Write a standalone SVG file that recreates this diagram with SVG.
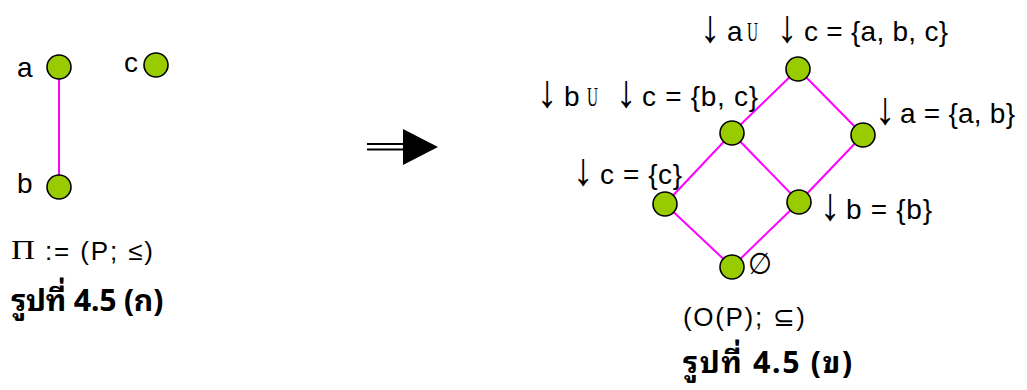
<svg xmlns="http://www.w3.org/2000/svg" width="1027" height="390" viewBox="0 0 1027 390">
  <style>
    .node { fill: #99cc00; stroke: #000; stroke-width: 1.6; }
    .edge { stroke: #ff00ff; stroke-width: 2; fill: none; }
    .lbl { font-family: "Liberation Sans", Arial, sans-serif; font-size: 28px; fill: #000; }
    .small { font-family: "Liberation Sans", Arial, sans-serif; font-size: 26px; fill: #000; }
    .arr { font-family: "Liberation Sans", Arial, sans-serif; font-size: 46px; fill: #000; }
    .cup { font-family: "Liberation Serif", "Times New Roman", serif; font-size: 28px; fill: #000; }
    .cap { font-family: "Noto Sans Thai Looped", Tahoma, "Noto Sans Thai", "Noto Sans", "DejaVu Sans", sans-serif; font-size: 30px; font-weight: bold; fill: #000; }
  </style>

  <!-- left poset: a above b, c unrelated -->
  <g id="connectors-left">
    <line class="edge" x1="59" y1="67" x2="59" y2="187"/>
  </g>
  <g id="node-a">
    <circle class="node" cx="59" cy="67" r="12"/>
    <text class="lbl" x="17" y="77">a</text>
  </g>
  <g id="node-c">
    <circle class="node" cx="156" cy="65" r="12"/>
    <text class="lbl" x="124" y="72">c</text>
  </g>
  <g id="node-b">
    <circle class="node" cx="59" cy="187" r="12"/>
    <text class="lbl" x="17" y="193">b</text>
  </g>
  <g id="poset-name">
    <text class="cup" x="11" y="259" font-size="26" textLength="24" lengthAdjust="spacingAndGlyphs">Π</text>
    <text class="small" x="45" y="260" textLength="108">:= (P; ≤)</text>
  </g>
  <text class="cap" x="11" y="311" textLength="152">รูปที่ 4.5 (ก)</text>

  <!-- transition arrow -->
  <g id="implies">
    <line x1="367" y1="144" x2="404" y2="144" stroke="#000" stroke-width="2"/>
    <line x1="367" y1="149.5" x2="404" y2="149.5" stroke="#000" stroke-width="2"/>
    <polygon points="403,129 403,165 438,147" fill="#000"/>
  </g>

  <!-- lattice of down-sets -->
  <g id="connectors">
    <line class="edge" x1="798" y1="69" x2="732" y2="133"/>
    <line class="edge" x1="798" y1="69" x2="863" y2="135"/>
    <line class="edge" x1="732" y1="133" x2="665" y2="204"/>
    <line class="edge" x1="732" y1="133" x2="799" y2="202"/>
    <line class="edge" x1="863" y1="135" x2="799" y2="202"/>
    <line class="edge" x1="665" y1="204" x2="732" y2="267"/>
    <line class="edge" x1="799" y1="202" x2="732" y2="267"/>
  </g>

  <g id="node-abc">
    <circle class="node" cx="798" cy="69" r="12"/>
    <text class="arr" transform="translate(700,42) scale(0.9,1)">↓</text>
    <text class="lbl" x="727" y="41">a</text>
    <text class="cup" x="747" y="41" textLength="11" lengthAdjust="spacingAndGlyphs">U</text>
    <text class="arr" transform="translate(777,42) scale(0.9,1)">↓</text>
    <text class="lbl" x="804" y="41" textLength="144">c = {a, b, c}</text>
  </g>
  <g id="node-bc">
    <circle class="node" cx="732" cy="133" r="12"/>
    <text class="arr" transform="translate(537,107) scale(0.9,1)">↓</text>
    <text class="lbl" x="564" y="106">b</text>
    <text class="cup" x="587" y="106" textLength="11" lengthAdjust="spacingAndGlyphs">U</text>
    <text class="arr" transform="translate(616,107) scale(0.9,1)">↓</text>
    <text class="lbl" x="642" y="106" textLength="116">c = {b, c}</text>
  </g>
  <g id="node-ab">
    <circle class="node" cx="863" cy="135" r="12"/>
    <text class="arr" transform="translate(875,124) scale(0.9,1)">↓</text>
    <text class="lbl" x="900" y="123" textLength="115">a = {a, b}</text>
  </g>
  <g id="node-c-down">
    <circle class="node" cx="665" cy="204" r="12"/>
    <text class="arr" transform="translate(573,185) scale(0.9,1)">↓</text>
    <text class="lbl" x="600" y="184" textLength="82">c = {c}</text>
  </g>
  <g id="node-b-down">
    <circle class="node" cx="799" cy="202" r="12"/>
    <text class="arr" transform="translate(820,220) scale(0.9,1)">↓</text>
    <text class="lbl" x="846" y="219" textLength="86">b = {b}</text>
  </g>
  <g id="node-empty">
    <circle class="node" cx="732" cy="267" r="12"/>
    <text x="748" y="274" font-family="DejaVu Sans, sans-serif" font-size="30" textLength="24" lengthAdjust="spacingAndGlyphs">∅</text>
  </g>

  <text class="small" x="683" y="326" textLength="122">(O(P); ⊆)</text>
  <text class="cap" x="683" y="373" textLength="169">รูปที่ 4.5 (ข)</text>
</svg>
